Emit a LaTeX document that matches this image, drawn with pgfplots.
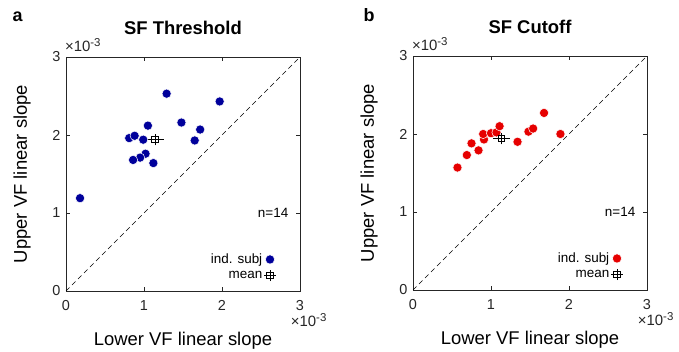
\documentclass[border=0pt]{standalone}
\usepackage{pgfplots}
\pgfplotsset{compat=1.18}
\usepackage{fontspec}
\setmainfont{Liberation Sans}
\definecolor{mblue}{RGB}{0,0,155}
\definecolor{mred}{RGB}{230,0,0}
\definecolor{axgray}{RGB}{38,38,38}
\newcommand\tickfont{\fontsize{14.5}{16}\selectfont}
\newcommand\labfont{\fontsize{18.5}{20}\selectfont}
\newcommand\titfont{\bfseries\fontsize{18.5}{20}\selectfont}
\newcommand\legfont{\fontsize{13.5}{15}\selectfont}
\newcommand\expfont{\fontsize{15}{16}\selectfont}
\newcommand\supfont{\fontsize{11.5}{12}\selectfont}
\newcommand\tenexp{\expfont ×10\raisebox{5.5bp}{\supfont -3}}
\pgfdeclareplotmark{sqplus}{%
  \pgfpathrectangle{\pgfpoint{-\pgfplotmarksize}{-\pgfplotmarksize}}{\pgfpoint{2\pgfplotmarksize}{2\pgfplotmarksize}}%
  \pgfpathmoveto{\pgfpoint{-1.8\pgfplotmarksize}{0pt}}\pgfpathlineto{\pgfpoint{1.8\pgfplotmarksize}{0pt}}%
  \pgfpathmoveto{\pgfpoint{0pt}{-1.8\pgfplotmarksize}}\pgfpathlineto{\pgfpoint{0pt}{1.8\pgfplotmarksize}}%
  \pgfusepathqstroke}
\pgfplotstableread{
x y
1.29 2.53
1.97 2.43
1.48 2.16
1.72 2.07
1.05 2.12
1.65 1.93
0.81 1.96
0.88 1.99
0.99 1.94
1.02 1.76
0.95 1.71
0.86 1.68
1.12 1.64
0.18 1.19
}\thrA
\pgfplotstableread{
x y
0.57 1.57
0.69 1.73
0.75 1.88
0.84 1.79
0.91 1.93
0.90 2.00
1.00 2.01
1.07 2.02
1.11 2.10
1.34 1.90
1.48 2.03
1.54 2.07
1.68 2.27
1.89 2.00
}\cutB
\pgfplotsset{
  panel/.style={
    scale only axis, width=234bp, height=234bp,
    xmin=0, xmax=3, ymin=0, ymax=3,
    xtick={0,1,2,3}, ytick={0,1,2,3},
    tick align=inside, xtick pos=both, ytick pos=both,
    major tick length=4bp,
    axis line style={axgray, line width=0.8pt},
    every tick/.style={axgray, line width=0.8pt},
    tick label style={font=\tickfont, text=axgray},
    xticklabel style={yshift=-6bp},
    yticklabel style={xshift=-2bp},
    /pgf/number format/assume math mode=true,
    xlabel={Lower VF linear slope}, ylabel={Upper VF linear slope},
    label style={font=\labfont},
    xlabel style={yshift=-15bp},
    ylabel style={yshift=15bp},
    title style={font=\titfont, yshift=13bp},
    legend style={draw=none, fill=none, at={(0.91,0.03)}, anchor=south east,
      font=\legfont, nodes={font=\legfont}, row sep=2bp},
    legend cell align=right, legend plot pos=right,
    clip=false,
  }
}
\begin{document}
\begin{tikzpicture}
\useasboundingbox (0,0) rectangle (679bp,352bp);
\node[anchor=base west, font=\bfseries\fontsize{18}{20}\selectfont] at (9bp,330bp) {a};
\node[anchor=base west, font=\bfseries\fontsize{18}{20}\selectfont] at (360bp,330bp) {b};
\begin{axis}[panel, at={(66bp,61bp)}, anchor=south west, title={SF Threshold}]
\addplot[black, dash pattern=on 5bp off 3.5bp, line width=0.5pt, forget plot] coordinates {(0,0) (3,3)};
\addplot[only marks, mark=*, mark size=4.6bp, mark options={fill=mblue, draw=white, line width=0.5pt}] table {\thrA};
\addlegendentry{ind. subj}
\addplot[black, line width=0.8pt, mark=none, forget plot, error bars/.cd, x dir=both, y dir=both, x explicit, y explicit, error mark=none]
  coordinates {(1.14,1.94) +- (0.12,0.07)};
\addplot[only marks, mark=sqplus, mark size=3.2bp, mark options={black, line width=0.8pt, fill=none}] coordinates {(1.14,1.94)};
\addlegendentry{mean}
\node[anchor=east, font=\legfont] at (rel axis cs:0.965,0.335) {n=14};
\node[anchor=south west, text=axgray, inner sep=0pt] at (rel axis cs:-0.005,1.02) {\tenexp};
\node[anchor=north west, text=axgray, inner sep=0pt] at (rel axis cs:0.96,-0.095) {\tenexp};
\end{axis}
\begin{axis}[panel, at={(413bp,62bp)}, anchor=south west, title={SF Cutoff}]
\addplot[black, dash pattern=on 5bp off 3.5bp, line width=0.5pt, forget plot] coordinates {(0,0) (3,3)};
\addplot[only marks, mark=*, mark size=4.6bp, mark options={fill=mred, draw=white, line width=0.5pt}] table {\cutB};
\addlegendentry{ind. subj}
\addplot[black, line width=0.8pt, mark=none, forget plot, error bars/.cd, x dir=both, y dir=both, x explicit, y explicit, error mark=none]
  coordinates {(1.13,1.94) +- (0.11,0.06)};
\addplot[only marks, mark=sqplus, mark size=3.2bp, mark options={black, line width=0.8pt, fill=none}] coordinates {(1.13,1.94)};
\addlegendentry{mean}
\node[anchor=east, font=\legfont] at (rel axis cs:0.965,0.335) {n=14};
\node[anchor=south west, text=axgray, inner sep=0pt] at (rel axis cs:-0.005,1.02) {\tenexp};
\node[anchor=north west, text=axgray, inner sep=0pt] at (rel axis cs:0.96,-0.095) {\tenexp};
\end{axis}
\end{tikzpicture}
\end{document}
